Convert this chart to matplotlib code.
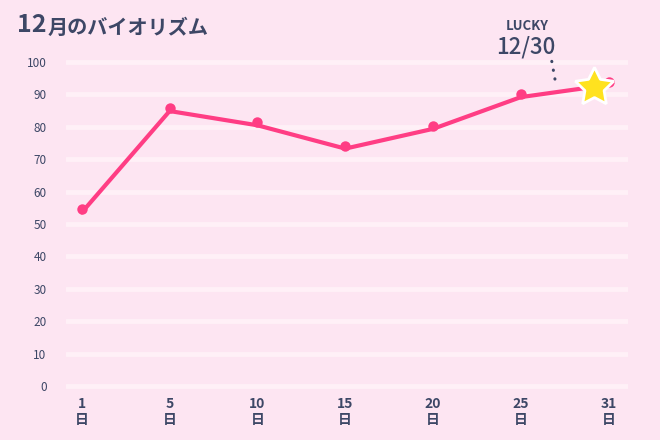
import numpy as np
import matplotlib.pyplot as plt
from matplotlib import transforms

plt.rcParams['font.family'] = ['Noto Sans CJK JP', 'DejaVu Sans']

# data
days = [1, 5, 10, 15, 20, 25, 31]
values = [54.5, 85.8, 81.4, 74.2, 80.3, 90.1, 93.9]
day_labels = [str(d) + "\n日" for d in days]
y_ticks = list(range(0, 101, 10))
lucky_day = 30
lucky_title = "LUCKY"
lucky_label = "12/30"
title_num = "12"
title_rest = "月のバイオリズム"

# colours
bg = "#fde5f2"
grid_c = "#fff0f7"
pink = "#ff3d84"
ink = "#3d4766"
yellow = "#ffe21f"

fig = plt.figure(figsize=(6.6, 4.4), dpi=100, facecolor=bg)
ax = fig.add_axes([66 / 660, 0.1007, (628 - 66) / 660, 0.8811 - 0.1007])
ax.set_facecolor(bg)

x = np.arange(len(days))

# line sits a few px under the dots in the original
line_tr = transforms.offset_copy(ax.transData, fig=fig, x=0, y=-3, units='dots')
ax.plot(x, values, color=pink, lw=3, solid_joinstyle='round',
        solid_capstyle='round', transform=line_tr, zorder=3)
ax.plot(x, values, 'o', color=pink, ms=7.5, mec='none', zorder=4)

# lucky star
lx = np.interp(lucky_day, days, x)
ly = np.interp(lx, x, values)
ax.plot([lx], [ly], marker=(5, 1, 0), ms=29, color=yellow, mec='white', mew=2,
        transform=line_tr, zorder=6, clip_on=False)

ax.set_xlim(-0.18, 6.22)
ax.set_ylim(-3, 103)
ax.set_xticks(x)
ax.set_xticklabels(day_labels, fontsize=10, fontweight='bold', color=ink, linespacing=1.2)
ax.set_yticks(y_ticks)
ax.set_yticklabels([str(v) for v in y_ticks], fontsize=8.5, color=ink)
ax.tick_params(axis='both', length=0)
ax.tick_params(axis='y', pad=14)
ax.tick_params(axis='x', pad=1)
ax.grid(axis='y', color=grid_c, lw=3.5, solid_capstyle='round')
ax.grid(axis='x', visible=False)
ax.set_axisbelow(True)
for s in ax.spines.values():
    s.set_visible(False)

# title
t1 = fig.text(17 / 660, 1 - 32.5 / 440, title_num, fontsize=18, fontweight='bold',
              color=ink, va='baseline', ha='left')
ax.annotate(title_rest, xy=(1, 0), xycoords=t1, xytext=(1, 0), textcoords='offset points',
            fontsize=14.5, fontweight='bold', color=ink, va='bottom', ha='left')

# lucky label
fig.text(527 / 660, 1 - 26 / 440, lucky_title, fontsize=9.5, fontweight='bold',
         color=ink, ha='center', va='center')
t3 = fig.text(526 / 660, 1 - 47 / 440, lucky_label, fontsize=16, fontweight='medium',
              color=ink, ha='center', va='center')
ax.annotate('', xy=(0.93, -0.05), xycoords=t3, xytext=(2.5, -14), textcoords='offset points',
            arrowprops=dict(arrowstyle='-', lw=2.2, linestyle=(0, (0.1, 2.8)),
                            capstyle='round', color=ink, shrinkA=0, shrinkB=0))

fig.savefig('out.png', dpi=100, facecolor=bg)
